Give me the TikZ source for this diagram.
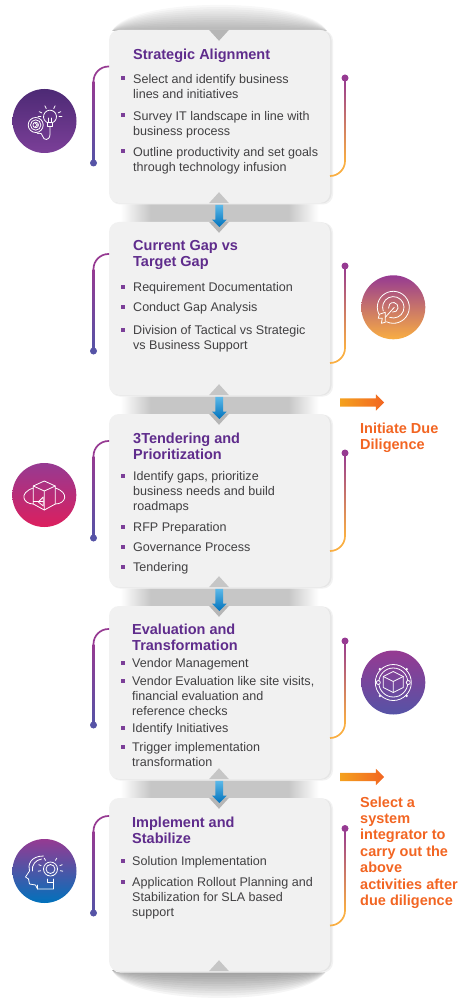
\documentclass[tikz,border=0pt]{standalone}
\usepackage{fontspec}
\setmainfont{Liberation Sans}
\usetikzlibrary{calc,shapes.arrows}
\definecolor{titlepurple}{HTML}{5F2C8C}
\definecolor{bodygrey}{HTML}{414042}
\definecolor{bulletpurple}{HTML}{7B3F98}
\definecolor{wiremag}{HTML}{963A92}
\definecolor{wireblue}{HTML}{5553A6}
\definecolor{wireorange}{HTML}{F9AE42}
\definecolor{duered}{HTML}{F26522}
\definecolor{dueamber}{HTML}{F4A11E}
\definecolor{boxfill}{HTML}{F1F1F1}
\definecolor{bandgrey}{HTML}{C6C6C6}
\definecolor{arrowtop}{HTML}{5BB8E8}
\definecolor{arrowbottom}{HTML}{0072BC}
\definecolor{balldark}{HTML}{4D2A75}
\definecolor{ballpink}{HTML}{DC1F5E}
\pgfdeclarehorizontalshading{bandshade}{100bp}{color(0bp)=(white); color(27bp)=(white); color(34bp)=(bandgrey); color(66bp)=(bandgrey); color(73bp)=(white); color(100bp)=(white)}
\tikzset{
  stepbox/.style={fill=boxfill, rounded corners=10, minimum width=221, minimum height=173, inner sep=0},
  titletext/.style={anchor=north west, inner sep=0, align=left, text=titlepurple, font=\fontsize{14.5}{16}\selectfont\bfseries},
  itemtext/.style={anchor=north west, inner sep=0, align=left, text=bodygrey, font=\fontsize{12.55}{15}\selectfont},
  duetext/.style={anchor=north west, inner sep=0, align=left, text=duered, font=\fontsize{14.5}{16.4}\selectfont\bfseries},
  bullet/.style={fill=bulletpurple, minimum size=4, inner sep=0},
  wiredot/.style={circle, minimum size=7, inner sep=0},
  wire/.style={line width=1.7},
  iconline/.style={draw=white, line width=0.8, line cap=round, line join=round},
  iconball/.style={circle, minimum size=64, inner sep=0},
  duearrow/.style={single arrow, inner sep=4, minimum height=44, minimum width=16, single arrow head extend=4, single arrow head indent=0, left color=dueamber, right color=duered},
  downarrow/.style={single arrow, shape border rotate=270, inner sep=3.7, minimum height=22, minimum width=14.4, single arrow head extend=3.5, single arrow head indent=0, top color=arrowtop, bottom color=arrowbottom},
}
% straight run of a wire, shaded from its upper end to its lower end
\newcommand{\gradwire}[4]{%
  \shade[top color=#3, bottom color=#4] ([xshift=-0.85]#1) rectangle ([xshift=0.85]#2);
}
\begin{document}
\begin{tikzpicture}[x=1pt, y=-1pt]
  \useasboundingbox (0,0) rectangle (475,1000);
  % soft shadow above and below the stack, as nested domes
  \foreach \k in {1,...,12} {
    \fill[black, opacity=0.026] (112,31) .. controls (130,31-\k*2.9) and (308,31-\k*2.9) .. (327,31) -- cycle;
    \fill[black, opacity=0.04] (112,970) .. controls (130,970+\k*3.1) and (308,970+\k*3.1) .. (327,970) -- cycle;
  }
  % grey bands between the boxes
  \foreach \y in {203,395,587,779} {
    \shade[shading=bandshade] (112,\y-1) rectangle (327,\y+20);
  }
  % boxes
  \foreach \n/\yc in {1/116.5, 2/308.5, 3/500.5, 4/692.5, 5/884.5} {
    \fill[black!5, rounded corners=10] (110,\yc-86) rectangle (333,\yc+88);
    \fill[black!10, rounded corners=10] (110,\yc-86) rectangle (331.5,\yc+87);
    \node[stepbox] (box\n) at (219.5,\yc) {};
    \fill[bandgrey!92!black] ($(box\n.north)+(-10.5,0)$) -- ++(10,11) -- ++(10,-11) -- cycle;
    \fill[bandgrey] ($(box\n.south)+(-10.5,0)$) -- ++(10,-11) -- ++(10,11) -- cycle;
  }
  % left wires
  \foreach \n/\ytop/\ydot in {1/66.5/163, 2/254/351, 3/441/538, 4/629/725, 5/816/913} {
    \node[wiredot, fill=wireblue] (ldot\n) at (93.5,\ydot) {};
    \coordinate (lend\n) at (109,\ytop);
    \coordinate (lbend\n) at (93.5,\ytop+15);
    \draw[wire, color=wiremag, rounded corners=15] (93.5,\ytop+16) |- (lend\n);
    \gradwire{lbend\n}{ldot\n.center}{wiremag}{wireblue}
  }
  % right wires
  \foreach \n/\ydot/\yend in {1/78/176, 2/266/363, 3/453/551, 4/641/738, 5/828.5/925.5} {
    \node[wiredot, fill=wiremag] (rdot\n) at (345,\ydot) {};
    \coordinate (rend\n) at (330,\yend);
    \coordinate (rbend\n) at (345,\yend-15);
    \draw[wire, color=wireorange, rounded corners=15] (345,\yend-16) |- (rend\n);
    \gradwire{rdot\n.center}{rbend\n}{wiremag}{wireorange}
  }
  % arrows between the boxes
  \foreach \n/\y in {1/214, 2/406, 3/598, 4/790} {
    \node[downarrow] (down\n) at (219.3,\y) {};
  }
  \node[duearrow] (due1) at (360,402.5) {};
  \node[duearrow] (due2) at (360,777) {};
  % box 1
  \node[titletext] (title1) at (133,48) {\strut Strategic Alignment};
  \foreach \y/\t in {83/{Select and identify business\\lines and initiatives}, 120/{Survey IT landscape in line with\\business process}, 156/{Outline productivity and set goals\\through technology infusion}} {
    \node[bullet] at (122.5,\y-4.5) {};
    \node[itemtext] at (133,\y-10.5) {\strut\t};
  }
  % box 2
  \node[titletext] (title2) at (133,239) {\strut Current Gap vs\\Target Gap};
  \foreach \y/\t in {291/{Requirement Documentation}, 311/{Conduct Gap Analysis}, 334/{Division of Tactical vs Strategic\\vs Business Support}} {
    \node[bullet] at (122.5,\y-4.5) {};
    \node[itemtext] at (133,\y-10.5) {\strut\t};
  }
  % box 3
  \node[titletext] (title3) at (133,432) {\strut 3Tendering and\\Prioritization};
  \foreach \y/\t in {480/{Identify gaps, prioritize\\business needs and build\\roadmaps}, 531/{RFP Preparation}, 551/{Governance Process}, 571/{Tendering}} {
    \node[bullet] at (122.5,\y-4.5) {};
    \node[itemtext] at (133,\y-10.5) {\strut\t};
  }
  % box 4
  \node[titletext] (title4) at (132,623) {\strut Evaluation and\\Transformation};
  \foreach \y/\t in {667/{Vendor Management}, 685/{Vendor Evaluation like site visits,\\financial evaluation and\\reference checks}, 732/{Identify Initiatives}, 751/{Trigger implementation\\transformation}} {
    \node[bullet] at (122.5,\y-4.5) {};
    \node[itemtext] at (132,\y-10.5) {\strut\t};
  }
  % box 5
  \node[titletext] (title5) at (132,816) {\strut Implement and\\Stabilize};
  \foreach \y/\t in {865/{Solution Implementation}, 886/{Application Rollout Planning and\\Stabilization for SLA based\\support}} {
    \node[bullet] at (122.5,\y-4.5) {};
    \node[itemtext] at (132,\y-10.5) {\strut\t};
  }
  % side notes
  \node[duetext] (note1) at (360,421.5) {\strut Initiate Due\\Diligence};
  \node[duetext] (note2) at (360,795.5) {\strut Select a\\system\\integrator to\\carry out the\\above\\activities after\\due diligence};
  % icon discs
  \node[iconball, top color=balldark, bottom color=bulletpurple] (icon1) at (44.5,121) {};
  \node[iconball, top color=wiremag, bottom color=wireorange] (icon2) at (393.3,307.3) {};
  \node[iconball, top color=wiremag, bottom color=ballpink] (icon3) at (44.3,495) {};
  \node[iconball, top color=wiremag, bottom color=wireblue] (icon4) at (393.3,682.5) {};
  \node[iconball, top color=wiremag, bottom color=arrowbottom] (icon5) at (44.5,871) {};
  % bulb and target
  \begin{scope}[shift={(icon1.center)}, x=1pt, y=1pt, iconline]
    \draw (5.5,4.3) ++(-60:6.5) arc[start angle=-60, end angle=240, radius=6.5];
    \draw (3,-1.5) rectangle (8,-5.5);
    \draw (4,-1.5) -- (4,3) (7,-1.5) -- (7,3);
    \foreach \a in {25,65,115,155,0,180} { \draw (5.5,4.3) ++(\a:9) -- ++(\a:3); }
    \draw (5.5,-5.5) -- (5.5,-13) .. controls (5.5,-20) and (-1,-20) .. (-2,-15) .. controls (-3,-10) and (-7,-14) .. (-8,-11.5);
    \draw (-8.8,-4) circle (7.5) (-8.8,-4) circle (5.2) (-8.8,-4) circle (2.8);
    \draw (-9.5,-2) -- (-7,-4) -- (-9.5,-6);
  \end{scope}
  % rings and dart
  \begin{scope}[shift={(icon2.center)}, x=1pt, y=1pt, iconline]
    \draw (245:16) arc[start angle=245, end angle=565, radius=16];
    \draw (250:10.7) arc[start angle=250, end angle=560, radius=10.7];
    \draw (260:4.8) arc[start angle=260, end angle=550, radius=4.8];
    \draw (1,0) -- (-8,-10);
    \draw (-8,-10) -- (-8,-5) -- (-14,-7) -- (-15,-11) -- (-11,-11) -- (-12,-16) -- (-8,-15) -- cycle;
  \end{scope}
  % cube in an orbit
  \begin{scope}[shift={(icon3.center)}, x=1pt, y=1pt, iconline]
    \draw (0,14) -- (11,9) -- (11,-9) -- (0,-15) -- (-11,-9) -- (-11,9) -- cycle;
    \draw (-11,9) -- (0,4) -- (11,9) (0,4) -- (0,-15);
    \draw (-11,7) .. controls (-26,2) and (-21,-9) .. (-11,-9);
    \draw (11,7) .. controls (26,2) and (21,-9) .. (11,-9);
    \draw (-11,-6) -- (-1,-6);
    \draw (-1,-11) -- (-6,-7) -- (-1,-2) -- cycle;
  \end{scope}
  % cube in a ring
  \begin{scope}[shift={(icon4.center)}, x=1pt, y=1pt, iconline]
    \draw (0,0) circle (18) (0,0) circle (14.5);
    \draw (0,11) -- (10,6) -- (10,-5) -- (0,-10) -- (-10,-5) -- (-10,6) -- cycle;
    \draw (-10,6) -- (0,1) -- (10,6) (0,1) -- (0,-10);
    \foreach \a in {45,135,225,315} { \fill[white] (\a:19) circle (1.3); }
    \foreach \a in {0,180} { \draw[fill=wireblue!50!wiremag] (\a:15) circle (2); }
  \end{scope}
  % head with bulb
  \begin{scope}[shift={(icon5.center)}, x=1pt, y=1pt, iconline]
    \draw (-1,15) .. controls (-14,15) and (-17,6) .. (-15,0) -- (-19,-6) -- (-16,-8) -- (-15,-13) -- (-9,-14) -- (-7,-18) -- (9,-18) -- (9,-11);
    \draw (-7,-18) -- (-7,-14);
    \draw (-3,12) .. controls (-9,11) and (-13,6) .. (-12,0);
    \draw (3,-8) -- (3,-11) -- (9,-11) -- (9,-8);
    \draw (6,2) circle (7);
    \draw (6,2) circle (4.5);
    \foreach \a in {20,60,120,160,-10,190} { \draw (6,2) ++(\a:10) -- ++(\a:2.5); }
  \end{scope}
\end{tikzpicture}
\end{document}
